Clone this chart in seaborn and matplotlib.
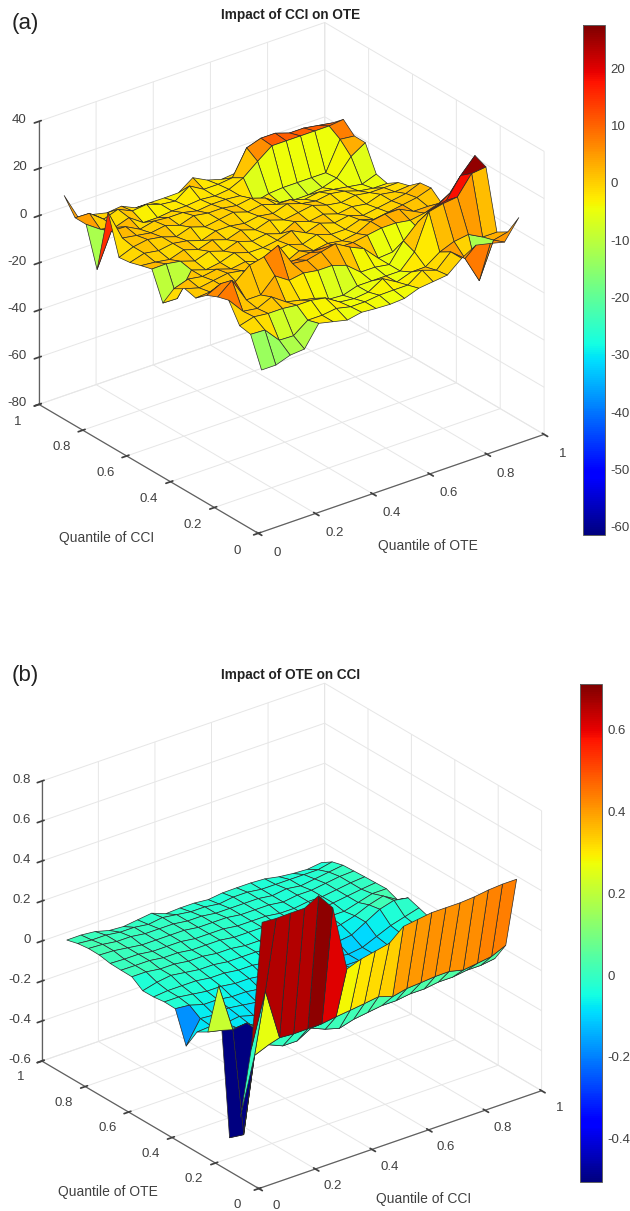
import numpy as np
import matplotlib
matplotlib.use('Agg')
import matplotlib.pyplot as plt
from matplotlib.cm import ScalarMappable
from matplotlib.colors import Normalize
from matplotlib.transforms import ScaledTranslation
import seaborn as sns

quantiles = [0.05, 0.10, 0.15, 0.20, 0.25, 0.30, 0.35, 0.40, 0.45, 0.50,
             0.55, 0.60, 0.65, 0.70, 0.75, 0.80, 0.85, 0.90, 0.95]

# rows follow the y axis quantile, columns the x axis quantile
impact_cci_on_ote = [
    [-15.6, -15.6, -13.5, -13, -4.2, -5.6, -7, -5.8, -6.3, -6.6, -6.2, -4, -3.3, -2.6, 2.4, 5.9, 4.5, 3, 11.3],
    [-3.2, -3.5, -9.9, -10.1, -5.6, -5.6, -4.8, -6.2, -6.2, -5.5, -5.4, -5.4, -1.2, -3.3, 2.4, -2.5, -14, 1.1, 2.5],
    [-2.3, -0.6, -1.3, -1.3, -2, -2, -3.1, -6.9, -7.6, -6.9, -3.3, -6.8, -4.7, -4.6, -0.4, 2, 2.9, -0.3, -0.3],
    [5.8, -1, -1.9, 0.9, -3.3, -4.7, -6, -8.5, -8.9, -7, -7, -7, -7, -1, 13.9, 15.3, 16, 23.9, 24.6],
    [4.45, 9.4, -1, -1, 5, 1, 2, 1, 1, -1, -6, -6, -7, 1, 6.8, 10.4, 11.8, 20.3, 26.7],
    [2.4, 5.3, 3.9, 8.9, 10.3, 13.1, 3.3, 2.6, 4, 5.4, 1.9, -0.9, -7, -6.5, -7, -2, 6, 10, 8],
    [-1.5, -1, -1, -2, -2, 1, 0, 0, 1, 1, -1, -1, 0, 1, 1, 0, 1, 3, 2.85],
    [-0.25, -2, -1, 0, -1, -3, -3, -4, -1, -3, -2, -3, -2, 1, 2, 2, -1, -1, -2],
    [-3, -1, -2, -1, -3, -2, -4, -2, -1, -3, -1, -3, -3, -1, -3, -2, -1, 0, 2],
    [-11.8, -12, -2, -4, -3, -1, -3, -3, -2, 0, -3, -1, -3, -2, -4, -3, -2, -1, 1.4],
    [-0.1, 0, -1, -3, -1, -3, -1, -3, -2, -4, -1, -3, -2, -4, -3, -4, -2, -3, -2.5],
    [-1.4, -2, -3, -1, -3, -1, -3, -1, -3, -1, -3, -2, -1, -3, -4, -3, -4, -4, -3.9],
    [-2.8, -1, -2, -1, -2, -4, -2, -2, -3, -2, -3, -1, -3, -4, -3, -4, -6, -7, -7],
    [-3.4, -1, 0, -1, -3, -1, -3, -2, -1, -3, -2, -4, -4, -6, -5, -6, -7, -8, -5.8],
    [13, 0, -1, -2, -1, -3, -1, -2, -2, -3, -2, -4, -8, -9, -9, -8, -6, 1, 4.8],
    [-14, 0.25, 0, -3.2, -1.8, -2.4, -2.4, -3.8, -3.1, -3.1, -3.7, -8.5, -7, -6.5, -6.5, -6.5, -6.5, 5.6, 4.9],
    [2.45, -1.75, -3.1, -1, -5.2, -5.2, -4.5, -4.4, -3.8, -4.4, -3.7, -0.9, 4, 8.5, 8.5, 8.5, 8.5, 8.5, 9.2],
    [2.5, 2.3, -2.3, -0.2, -3, -2.3, -4.4, -5.1, -0.8, -4.3, -4.3, -3.6, 7, 9, 9, 7, 7, 6, 5],
    [9.2, -2.3, -3, -4.4, -3.7, -6.5, -6.4, -6.5, -6.4, -2.1, -5.2, -7, -6.4, 1.5, 1.5, 0, 0, 0, 0.85],
]

impact_ote_on_cci = [
    [0.675, 0.67, 0.672, 0.672, 0.71, 0.625, 0.295, 0.32, 0.335, 0.35, 0.41, 0.42, 0.43, 0.43, 0.43, 0.435, 0.445, 0.45, 0.45],
    [0.01, 0.275, 0.017, 0.012, 0.013, 0.014, 0.024, 0.032, 0.041, 0.051, 0.027, 0.043, 0.048, 0.054, 0.055, 0.038, 0.047, 0.057, 0.088],
    [-0.363, -0.079, -0.05, -0.08, -0.08, -0.04, -0.07, -0.09, -0.07, -0.06, -0.05, -0.05, -0.04, -0.04, -0.03, -0.03, -0.02, -0.02, -0.01],
    [-0.498, -0.507, -0.01, -0.07, -0.09, -0.08, -0.09, -0.09, -0.08, -0.08, -0.07, -0.06, -0.05, -0.05, -0.04, -0.03, -0.02, -0.02, -0.01],
    [0.23, -0.014, -0.005, -0.06, -0.08, -0.09, -0.08, -0.09, -0.08, -0.07, -0.07, -0.07, -0.06, -0.05, -0.05, -0.04, -0.02, -0.01, -0.01],
    [-0.033, -0.049, -0.06, -0.07, -0.08, -0.09, -0.1, -0.09, -0.09, -0.08, -0.08, -0.07, -0.07, -0.06, -0.05, -0.04, -0.03, -0.01, 0],
    [-0.065, -0.06, -0.07, -0.06, -0.08, -0.08, -0.09, -0.09, -0.09, -0.08, -0.08, -0.08, -0.07, -0.07, -0.06, -0.05, -0.03, -0.01, 0],
    [-0.167, -0.054, -0.06, -0.05, -0.06, -0.07, -0.08, -0.07, -0.08, -0.08, -0.09, -0.08, -0.08, -0.07, -0.07, -0.06, -0.03, -0.01, 0],
    [-0.012, -0.019, -0.04, -0.04, -0.05, -0.05, -0.06, -0.06, -0.06, -0.07, -0.08, -0.09, -0.09, -0.09, -0.08, -0.06, -0.03, -0.01, 0.0015],
    [-0.01, -0.01, -0.02, -0.03, -0.03, -0.04, -0.04, -0.05, -0.05, -0.06, -0.06, -0.07, -0.08, -0.09, -0.08, -0.05, -0.02, 0, 0.02],
    [-0.017, -0.01, -0.01, -0.01, -0.02, -0.02, -0.03, -0.03, -0.04, -0.04, -0.05, -0.05, -0.05, -0.06, -0.05, -0.01, 0.03, 0.05, 0.038],
    [-0.018, 0, 0.01, 0, -0.01, -0.01, -0.02, -0.02, -0.02, -0.03, -0.03, -0.03, -0.04, -0.04, -0.03, -0.01, 0.02, 0.04, -0.002],
    [0.02, 0.02, 0.01, 0.01, 0, 0, -0.01, -0.01, -0.02, -0.02, -0.02, -0.03, -0.03, -0.03, -0.02, -0.02, 0, 0.02, 0.02],
    [0.021, 0.02, 0.02, 0.01, 0.01, 0, 0, 0, -0.01, -0.01, -0.01, -0.02, -0.02, -0.02, -0.02, -0.01, 0, 0.01, 0.018],
    [0.023, 0.02, 0.02, 0.01, 0.01, 0.01, 0, 0, 0, -0.01, -0.01, -0.01, -0.02, -0.02, -0.01, -0.01, 0, 0.01, 0.016],
    [0.033, 0.03, 0.02, 0.01, 0.01, 0.01, 0.01, 0, 0, 0, -0.01, -0.01, -0.01, -0.02, -0.01, -0.01, 0, 0.01, 0.013],
    [0.034, 0.03, 0.02, 0.02, 0.01, 0.01, 0.01, 0, 0, -0.01, -0.01, -0.01, -0.01, -0.02, -0.01, -0.02, -0.01, 0, 0.01],
    [0.027, 0.02, 0.02, 0.01, 0.01, 0, 0.01, 0, -0.01, -0.01, -0.02, -0.01, -0.01, -0.02, -0.02, -0.02, -0.02, -0.02, -0.005],
    [0.0125, 0.013, 0.006, -0.013, -0.018, -0.009, 0, -0.027, -0.023, -0.023, -0.03, -0.021, -0.02, -0.02, -0.024, -0.038, -0.046, -0.05, -0.041],
]

quantile_ticks = [0, 0.2, 0.4, 0.6, 0.8, 1]
quantile_labels = ['0', '0.2', '0.4', '0.6', '0.8', '1']
ztick_a = [-80, -60, -40, -20, 0, 20, 40]
ztick_b = [-0.6, -0.4, -0.2, 0, 0.2, 0.4, 0.6, 0.8]
cbar_ticks_a = [-60, -50, -40, -30, -20, -10, 0, 10, 20]
cbar_ticks_b = [-0.4, -0.2, 0, 0.2, 0.4, 0.6]

W, H = 630, 1211
TEXT = '#404040'

sns.set_theme(style='white')
plt.rcParams['font.family'] = ['Liberation Sans', 'DejaVu Sans']
jet = matplotlib.colormaps['jet']


def px_rect(left, top, width, height):
    return [left / W, 1 - (top + height) / H, width / W, height / H]


def nudge_labels(ax, axis, dx, dy, ha=None):
    # Axis3D.get_major_ticks resets the label transform, so wrap it
    shift = ScaledTranslation(dx / 100, dy / 100, ax.figure.dpi_scale_trans)
    original = axis.get_major_ticks

    def get_major_ticks(numticks=None):
        ticks = original(numticks)
        for tick in ticks:
            tick.label1.set_transform(ax.transData + shift)
            if ha:
                tick.label1.set_horizontalalignment(ha)
        return ticks

    axis.get_major_ticks = get_major_ticks


def draw_panel(fig, z_rows, box, zoom, zlim, zticks, zlabels, color_lim, color_shift,
               cbar_box, cbar_ticks, tag, tag_y, title, title_y, ylab, xlab, nudges):
    ax = fig.add_axes(px_rect(*box), projection='3d', proj_type='ortho')
    ax.patch.set_visible(False)
    ax.view_init(elev=26.8, azim=-127.5)
    ax.set_box_aspect((1, 1, 0.88), zoom=zoom)

    X, Y = np.meshgrid(quantiles, quantiles)
    Z = np.array(z_rows)
    norm = Normalize(*color_lim)
    surf = ax.plot_surface(X, Y, Z, facecolors=jet(norm(Z + color_shift)),
                           rstride=1, cstride=1, shade=False, linewidth=0.5)
    surf.set_edgecolor('#2a2a2a')

    ax.set_xlim(0, 1)
    ax.set_ylim(0, 1)
    ax.set_zlim(*zlim)
    ax.set_xticks(quantile_ticks, quantile_labels)
    ax.set_yticks(quantile_ticks, quantile_labels)
    ax.set_zticks(zticks, zlabels)
    ax.tick_params(labelsize=9.5, colors=TEXT, pad=1)

    for axis in (ax.xaxis, ax.yaxis, ax.zaxis):
        axis.set_pane_color((1, 1, 1, 0))
        axis.pane.set_edgecolor('#e2e2e2')
        axis.line.set_color('#606060')
        axis.line.set_linewidth(0.9)
        axis._axinfo['grid'].update(color='#e6e6e6', linewidth=0.7)
        axis._axinfo['tick'].update(color='#606060')

    nudge_labels(ax, ax.xaxis, *nudges[0])
    nudge_labels(ax, ax.yaxis, *nudges[1])
    nudge_labels(ax, ax.zaxis, *nudges[2], ha='right')

    fig.text(12 / W, 1 - tag_y / H, tag, fontsize=16, color='#222222', va='center')
    fig.text(291 / W, 1 - title_y / H, title, fontsize=9.8, fontweight='bold',
             color='#222222', ha='center', va='center')
    fig.text(ylab[0] / W, 1 - ylab[1] / H, ylab[2], fontsize=10, color=TEXT, ha='center', va='center')
    fig.text(xlab[0] / W, 1 - xlab[1] / H, xlab[2], fontsize=10, color=TEXT, ha='center', va='center')

    cax = fig.add_axes(px_rect(*cbar_box))
    cbar = fig.colorbar(ScalarMappable(norm=norm, cmap=jet), cax=cax)
    cbar.set_ticks(cbar_ticks, labels=[f'{t:g}' for t in cbar_ticks])
    cbar.ax.tick_params(direction='in', length=3, width=0.7, labelsize=9.5, colors=TEXT, pad=4)
    cbar.outline.set_edgecolor('#606060')
    cbar.outline.set_linewidth(0.7)
    return ax


fig = plt.figure(figsize=(W / 100, H / 100), dpi=100, facecolor='white')

draw_panel(fig, impact_cci_on_ote, (-16.6, -14, 600, 600), 0.971, (-80, 40), ztick_a,
           [f'{t:g}' for t in ztick_a], (-61.4, 27.5), 2, (583, 25, 22, 510),
           cbar_ticks_a, '(a)', 24, 'Impact of CCI on OTE', 15,
           (107, 538, 'Quantile of CCI'), (428, 546, 'Quantile of OTE'),
           [(10, 3), (-10, 4), (8, 6)])

draw_panel(fig, impact_ote_on_cci, (-16.4, 644, 600, 600), 0.9606, (-0.6, 0.8), ztick_b,
           [f'{t:g}' for t in ztick_b], (-0.505, 0.71), -0.015, (580, 684, 22, 498),
           cbar_ticks_b, '(b)', 675, 'Impact of OTE on CCI', 675,
           (108, 1192, 'Quantile of OTE'), (424, 1199, 'Quantile of CCI'),
           [(9, 5), (-10, 5), (9, 6)])

fig.savefig('out.png', dpi=100)
